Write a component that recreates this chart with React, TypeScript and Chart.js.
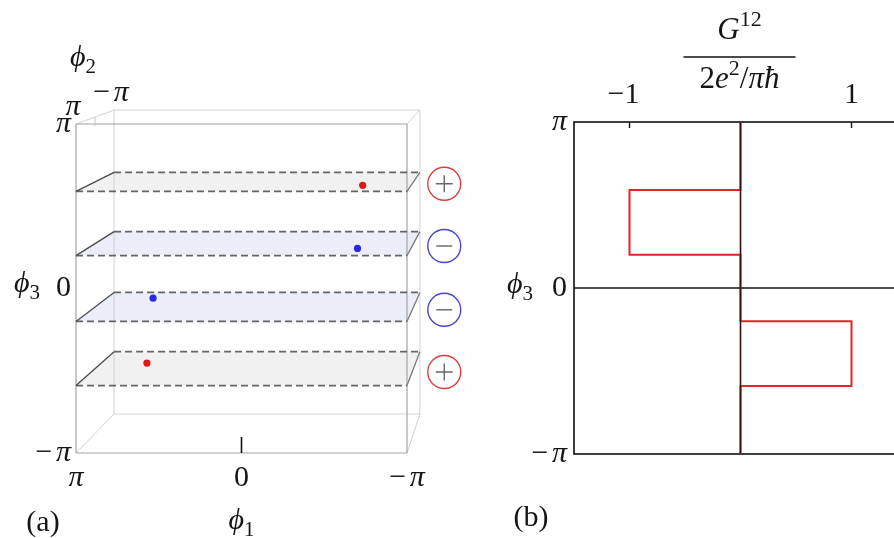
import React, { useEffect, useRef } from 'react';
import { Chart, registerables } from 'chart.js';
Chart.register(...registerables);

const PI = Math.PI;

// ---------- Panel (a) data (values in units of pi) ----------
const planeLevels = [0.59, 0.2, -0.2, -0.59]; // phi3 of the planes
const charges = [1, -1, -1, 1]; // chirality of each node
const dotPhi1 = [-0.7, -0.67, 0.7, 0.71];
const dotPhi2 = [0.36, 0.4, -0.6, -0.33];
const markerPhi1 = -1.2; // where the +/- circles sit (beyond the box)
const markerPhi2 = 0.2;
const boxLimits = [-1, 1];
const axisTicks = [-1, 0, 1];
const axisTickLabels = ['−π', '0', 'π'];

// ---------- Panel (b) data ----------
const stepBreaks = [1, 0.59, 0.2, -0.2, -0.59, -1]; // phi3 / pi
const stepG = [0, -1, 0, 1, 0]; // G12 in units of 2e^2/(pi hbar)
const gRange = [-1.5, 1.5];
const gTicks = [-1, 1];
const gTickLabels = ['−1', '1'];

// layout of panel (a): canvas size and margin around the front face of the box
const A_W = 490, A_H = 538;
const A_PAD = { left: 76, right: 83, top: 124, bottom: 85 };

// perspective used for the 3D box
const SHRINK = 0.076;
const OFFX = 0.484;
const OFFY = 0.506;
const proj = (p1: number, p2: number, p3: number) => {
  const t = (PI - p2) / (2 * PI);
  const s = 1 - SHRINK * t;
  return { x: p1 * s - OFFX * t, y: p3 * s + OFFY * t };
};

const PHI = 'ϕ';
const FONT = '"Liberation Serif", "DejaVu Serif", serif';
const FS = 30;
type Part = [string, string];
function drawMath(ctx: CanvasRenderingContext2D, parts: Part[], x: number, y: number, align: string, size = FS) {
  const fontFor = (st: string) => {
    const small = st === 'sub' || st === 'sup';
    const sz = small ? Math.round(size * 0.7) : size;
    return `${st === 'i' ? 'italic ' : ''}${sz}px ${FONT}`;
  };
  const gap = (t: string) => (t === '−' ? size * 0.12 : 0);
  const widths = parts.map(([t, st]) => {
    ctx.font = fontFor(st);
    return ctx.measureText(t).width + gap(t);
  });
  const total = widths.reduce((a, b) => a + b, 0);
  let cx = align === 'left' ? x : align === 'right' ? x - total : x - total / 2;
  ctx.textBaseline = 'middle';
  ctx.textAlign = 'left';
  parts.forEach(([t, st], i) => {
    ctx.font = fontFor(st);
    const dy = st === 'sub' ? size * 0.3 : st === 'sup' ? -size * 0.36 : 0;
    ctx.fillText(t, cx, y + dy);
    cx += widths[i];
  });
}

const piParts = (lbl: string): Part[] =>
  lbl === '−π' ? [['−', 'r'], ['π', 'i']] : lbl === 'π' ? [['π', 'i']] : [[lbl, 'r']];

const NAN = { x: NaN, y: NaN };
function segs(list: { x: number; y: number }[][]) {
  const out: { x: number; y: number }[] = [];
  list.forEach((s, i) => {
    if (i > 0) out.push(NAN);
    out.push(...s);
  });
  return out;
}

function lineDs(data: any[], color: string, width: number, order: number, dash: number[] = []) {
  return {
    data,
    showLine: true,
    borderColor: color,
    borderWidth: width,
    borderDash: dash,
    pointRadius: 0,
    fill: false,
    spanGaps: false,
    tension: 0,
    clip: false,
    order,
  };
}

function buildA() {
  const lim = boxLimits.map((v) => v * PI);
  const corners: { p: number[] }[] = [];
  const front: any[][] = [];
  const back: any[][] = [];
  for (const a of lim) for (const b of lim) for (const c of lim) corners.push({ p: [a, b, c] });
  for (let i = 0; i < corners.length; i++)
    for (let j = i + 1; j < corners.length; j++) {
      const A = corners[i].p, B = corners[j].p;
      const diff = [0, 1, 2].filter((k) => A[k] !== B[k]);
      if (diff.length !== 1) continue;
      const seg = [proj(A[0], A[1], A[2]), proj(B[0], B[1], B[2])];
      if (A[1] === lim[1] && B[1] === lim[1]) front.push(seg);
      else back.push(seg);
    }
  const datasets: any[] = [];
  datasets.push(lineDs(segs(back), '#d2d2d2', 1, 20));
  datasets.push(lineDs(segs(front), '#a4a4a4', 1.2, 19));
  planeLevels.forEach((lv) => {
    const z = lv * PI;
    const A = proj(PI, PI, z), B = proj(-PI, PI, z), C = proj(-PI, -PI, z), D = proj(PI, -PI, z);
    datasets.push(lineDs(segs([[A, B], [D, C]]), 'rgba(75,75,75,0.85)', 1.7, 10, [7, 4]));
    datasets.push(lineDs([A, D], '#4a4a4a', 1.3, 9));
    datasets.push(lineDs([B, C], '#7a7a7a', 1.3, 9));
  });
  const dotsPos: any[] = [], dotsNeg: any[] = [], mPos: any[] = [], mNeg: any[] = [];
  planeLevels.forEach((lv, i) => {
    const d = proj(dotPhi1[i] * PI, dotPhi2[i] * PI, lv * PI);
    const m = proj(markerPhi1 * PI, markerPhi2 * PI, lv * PI);
    (charges[i] > 0 ? dotsPos : dotsNeg).push(d);
    (charges[i] > 0 ? mPos : mNeg).push(m);
  });
  const pts = (data: any[], style: string, r: number, bg: string, bc: string, bw: number, order: number) => ({
    data, showLine: false, pointStyle: style, pointRadius: r, pointBackgroundColor: bg,
    pointBorderColor: bc, pointBorderWidth: bw, clip: false, order,
  });
  datasets.push(pts(dotsPos, 'circle', 3.6, '#e01818', '#e01818', 0, 3));
  datasets.push(pts(dotsNeg, 'circle', 3.6, '#2a2ae0', '#2a2ae0', 0, 3));
  datasets.push(pts(mPos, 'circle', 16.5, 'rgba(255,255,255,0)', '#d84040', 1.4, 2));
  datasets.push(pts(mNeg, 'circle', 16.5, 'rgba(255,255,255,0)', '#4646d0', 1.4, 2));
  datasets.push(pts(mPos, 'cross', 8.5, '#666', '#666666', 1.4, 1));
  datasets.push(pts(mNeg, 'line', 8, '#666', '#666666', 1.4, 1));
  return datasets;
}

const planeFillPlugin = {
  id: 'planeFill',
  beforeDatasetsDraw(chart: any) {
    const { ctx } = chart;
    const xs = chart.scales.x, ys = chart.scales.y;
    ctx.save();
    planeLevels.forEach((lv, i) => {
      const z = lv * PI;
      const pts = [proj(PI, PI, z), proj(-PI, PI, z), proj(-PI, -PI, z), proj(PI, -PI, z)];
      ctx.beginPath();
      pts.forEach((p, k) => {
        const px = xs.getPixelForValue(p.x), py = ys.getPixelForValue(p.y);
        if (k === 0) ctx.moveTo(px, py); else ctx.lineTo(px, py);
      });
      ctx.closePath();
      ctx.fillStyle = charges[i] > 0 ? '#f1f1f1' : '#ebeef9';
      ctx.fill();
    });
    ctx.restore();
  },
};

const textAPlugin = {
  id: 'textA',
  afterDraw(chart: any) {
    const { ctx } = chart;
    const xs = chart.scales.x, ys = chart.scales.y;
    const left = xs.getPixelForValue(PI);
    const bottom = ys.getPixelForValue(-PI);
    ctx.save();
    // tick on phi1 = 0
    ctx.strokeStyle = '#111';
    ctx.lineWidth = 1.6;
    const x0 = xs.getPixelForValue(0);
    ctx.beginPath();
    ctx.moveTo(x0, bottom);
    ctx.lineTo(x0, bottom - 16);
    ctx.stroke();
    // tick on phi2 = 0
    const t2 = proj(PI, 0, PI);
    ctx.strokeStyle = '#c8c8c8';
    ctx.lineWidth = 1;
    ctx.beginPath();
    ctx.moveTo(xs.getPixelForValue(t2.x), ys.getPixelForValue(t2.y));
    ctx.lineTo(xs.getPixelForValue(t2.x), ys.getPixelForValue(t2.y) + 9);
    ctx.stroke();

    ctx.fillStyle = '#151515';
    axisTicks.forEach((v, i) => {
      const lbl = axisTickLabels[i];
      drawMath(ctx, piParts(lbl), xs.getPixelForValue(v * PI), bottom + 25, 'center');
      drawMath(ctx, piParts(lbl), left - 5, ys.getPixelForValue(v * PI), 'right');
    });
    [1, -1].forEach((v) => {
      const p = proj(PI, v * PI, PI);
      drawMath(ctx, piParts(v > 0 ? 'π' : '−π'), xs.getPixelForValue(p.x) - 3, ys.getPixelForValue(p.y) - 17, 'center');
    });
    const top = proj(PI, -PI, PI);
    drawMath(ctx, [[PHI, 'i'], ['2', 'sub']], xs.getPixelForValue(top.x) - 31, ys.getPixelForValue(top.y) - 52, 'center');
    drawMath(ctx, [[PHI, 'i'], ['3', 'sub']], left - 49, ys.getPixelForValue(0) - 4, 'center');
    drawMath(ctx, [[PHI, 'i'], ['1', 'sub']], x0, bottom + 68, 'center');
    drawMath(ctx, [['(a)', 'r']], left - 33, bottom + 70, 'center');
    ctx.restore();
  },
};

const frameBPlugin = {
  id: 'frameB',
  beforeDatasetsDraw(chart: any) {
    const { ctx } = chart;
    const a = chart.chartArea;
    ctx.save();
    ctx.strokeStyle = '#111';
    ctx.lineWidth = 1.6;
    ctx.strokeRect(a.left, a.top, a.right - a.left, a.bottom - a.top);
    ctx.restore();
  },
  afterDraw(chart: any) {
    const { ctx } = chart;
    const xs = chart.scales.x, ys = chart.scales.y;
    const a = chart.chartArea;
    ctx.save();
    ctx.strokeStyle = '#111';
    ctx.lineWidth = 1.4;
    ctx.fillStyle = '#151515';
    gTicks.forEach((g, i) => {
      const x = xs.getPixelForValue(g);
      ctx.beginPath();
      ctx.moveTo(x, a.top);
      ctx.lineTo(x, a.top + 6);
      ctx.stroke();
      drawMath(ctx, [[gTickLabels[i], 'r']], x - (g < 0 ? 6 : 0), a.top - 27, 'center');
    });
    axisTicks.forEach((v, i) => {
      drawMath(ctx, piParts(axisTickLabels[i]), a.left - 7, ys.getPixelForValue(v * PI), 'right');
    });
    drawMath(ctx, [[PHI, 'i'], ['3', 'sub']], a.left - 54, ys.getPixelForValue(0) - 3, 'center');
    drawMath(ctx, [['(b)', 'r']], a.left - 43, a.bottom + 64, 'center');
    // fraction title
    const cx = xs.getPixelForValue(0) - 1;
    ctx.lineWidth = 1.5;
    ctx.beginPath();
    ctx.moveTo(cx - 56, a.top - 65);
    ctx.lineTo(cx + 56, a.top - 65);
    ctx.stroke();
    drawMath(ctx, [['G', 'i'], ['12', 'sup']], cx, a.top - 91, 'center', 31);
    drawMath(ctx, [['2', 'r'], ['e', 'i'], ['2', 'sup'], ['/', 'r'], ['π', 'i'], ['ħ', 'i']], cx, a.top - 42, 'center', 31);
    ctx.restore();
  },
};

function buildB() {
  const step: { x: number; y: number }[] = [];
  stepG.forEach((g, i) => {
    step.push({ x: g, y: stepBreaks[i] * PI });
    step.push({ x: g, y: stepBreaks[i + 1] * PI });
  });
  return [
    lineDs([{ x: gRange[0], y: 0 }, { x: gRange[1], y: 0 }], '#111111', 1.5, 3),
    lineDs(step, '#e2252b', 2, 2),
    lineDs([{ x: 0, y: PI }, { x: 0, y: -PI }], '#3a0e0e', 1.6, 1),
  ];
}

function baseOptions(padding: any, xMin: number, xMax: number, yMin: number, yMax: number, reverse: boolean) {
  return {
    responsive: false,
    animation: false as const,
    devicePixelRatio: 1,
    events: [],
    layout: { padding, autoPadding: false },
    plugins: { legend: { display: false }, tooltip: { enabled: false } },
    scales: {
      x: { type: 'linear' as const, display: false, min: xMin, max: xMax, reverse },
      y: { type: 'linear' as const, display: false, min: yMin, max: yMax },
    },
  };
}

export default function App() {
  const refA = useRef<HTMLCanvasElement>(null);
  const refB = useRef<HTMLCanvasElement>(null);
  useEffect(() => {
    const ux = (2 * PI) / (A_W - A_PAD.left - A_PAD.right);
    const uy = (2 * PI) / (A_H - A_PAD.top - A_PAD.bottom);
    const chartA = new Chart(refA.current!, {
      type: 'scatter',
      data: { datasets: buildA() },
      options: baseOptions(0, -PI - A_PAD.right * ux, PI + A_PAD.left * ux,
        -PI - A_PAD.bottom * uy, PI + A_PAD.top * uy, true) as any,
      plugins: [planeFillPlugin, textAPlugin],
    });
    const chartB = new Chart(refB.current!, {
      type: 'scatter',
      data: { datasets: buildB() as any },
      options: baseOptions({ left: 84, right: 13, top: 122, bottom: 84 }, gRange[0], gRange[1], -PI, PI, false) as any,
      plugins: [frameBPlugin],
    });
    return () => {
      chartA.destroy();
      chartB.destroy();
    };
  }, []);
  return (
    <div style={{ position: 'fixed', left: 0, top: 0, width: 894, height: 538, overflow: 'hidden', background: '#fff' }}>
      <canvas ref={refA} width={A_W} height={A_H} style={{ position: 'absolute', left: 0, top: 0, width: A_W, height: A_H }} />
      <canvas ref={refB} width={430} height={538} style={{ position: 'absolute', left: 490, top: 0, width: 430, height: 538 }} />
    </div>
  );
}
